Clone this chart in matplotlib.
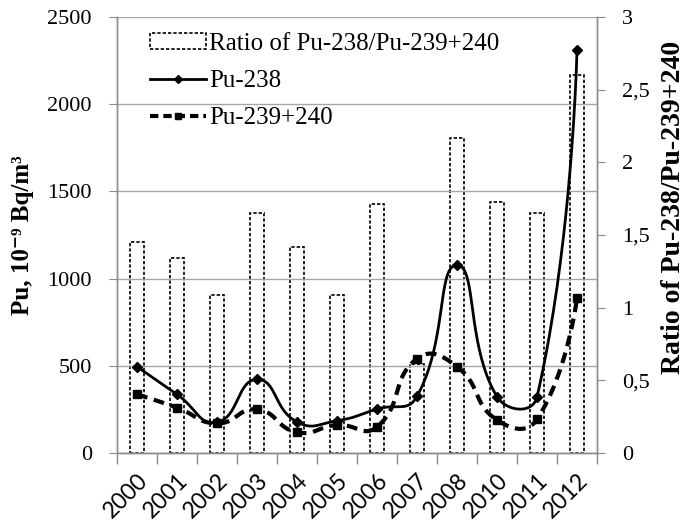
import numpy as np
import matplotlib
matplotlib.use("Agg")
import matplotlib.pyplot as plt
from matplotlib.patches import Patch
from matplotlib.lines import Line2D

years = ["2000", "2001", "2002", "2003", "2004", "2005", "2006", "2007", "2008", "2010", "2011", "2012"]
pu238 = [495, 336, 176, 422, 178, 185, 252, 325, 1078, 323, 321, 2311]
pu239 = [336, 260, 170, 250, 119, 160, 150, 541, 495, 189, 193, 887]
ratio = [1.45, 1.34, 1.09, 1.65, 1.42, 1.09, 1.71, 0.61, 2.17, 1.73, 1.65, 2.60]
left_ticks = [0, 500, 1000, 1500, 2000, 2500]
right_ticks = [0, 0.5, 1, 1.5, 2, 2.5, 3]
right_labels = ["0", "0,5", "1", "1,5", "2", "2,5", "3"]

SERIF = ["Liberation Serif", "DejaVu Serif"]
GRAY = "#8c8c8c"

fig = plt.figure(figsize=(6.94, 5.21), dpi=100)
ax2 = fig.add_axes([117/694, 1-453/521, 480/694, 436/521])
ax = fig.add_axes([117/694, 1-453/521, 480/694, 436/521], sharex=ax2)
ax.set_zorder(ax2.get_zorder() + 1)
ax.patch.set_visible(False)

x = np.arange(len(years))
n = len(years)

# bars (ratio, right axis)
ax2.bar(x, ratio, width=0.35, facecolor="white", edgecolor="black",
        linestyle=(0, (2.0, 1.2)), linewidth=1.2, zorder=2)
ax2.set_ylim(0, 3)
ax2.set_yticks(right_ticks)
ax2.set_yticklabels(right_labels)
ax2.yaxis.tick_right()

ax.set_xlim(-0.5, n - 0.5)
ax.set_ylim(0, 2500)
ax.set_yticks(left_ticks)
ax.grid(axis="y", color="#a6a6a6", linewidth=1.0)
ax.yaxis.tick_left()


def smooth_line(axis, xs, ys, t=0.5, steps=40):
    pts = axis.transData.transform(np.column_stack([xs, ys]))
    out = [pts[0]]
    m = len(pts)
    for i in range(m - 1):
        p0, p1 = pts[i], pts[i + 1]
        d12 = np.linalg.norm(p1 - p0)
        if i > 0:
            pm = pts[i - 1]
            d01 = np.linalg.norm(p0 - pm)
            c1 = p0 + t * d12 / (d01 + d12) * (p1 - pm)
        else:
            c1 = p0
        if i < m - 2:
            p2 = pts[i + 2]
            d23 = np.linalg.norm(p2 - p1)
            c2 = p1 - t * d12 / (d12 + d23) * (p2 - p0)
        else:
            c2 = p1
        s = np.linspace(0, 1, steps)[1:, None]
        seg = ((1 - s) ** 3) * p0 + 3 * ((1 - s) ** 2) * s * c1 + 3 * (1 - s) * s ** 2 * c2 + s ** 3 * p1
        out.extend(seg)
    out = np.array(out)
    return axis.transData.inverted().transform(out)


c238 = smooth_line(ax, x, pu238)
c239 = smooth_line(ax, x, pu239)
ax.plot(c238[:, 0], c238[:, 1], color="black", linewidth=2.0, solid_capstyle="round", zorder=4)
ax.plot(c239[:, 0], c239[:, 1], color="black", linewidth=3.0, linestyle=(0, (2.6, 1.6)), zorder=3)
ax.plot(x, pu238, linestyle="none", marker="D", markersize=5.5, color="black", zorder=5)
ax.plot(x, pu239, linestyle="none", marker="s", markersize=5.5, color="black", zorder=5)

# x ticks: boundaries as minor ticks, labels at centers
ax.set_xticks(x)
ax.set_xticklabels(years, rotation=45, ha="right", va="top", rotation_mode="anchor",
                   fontfamily="Lato", fontsize=16.5)
ax.tick_params(axis="x", which="major", length=0, pad=12)
ax.set_xticks(np.arange(-0.5, n, 1.0), minor=True)
ax.tick_params(axis="x", which="minor", length=8, color=GRAY, width=1)
ax2.tick_params(axis="x", which="both", length=0, labelbottom=False)

for a in (ax, ax2):
    for s in a.spines.values():
        s.set_color(GRAY)
        s.set_linewidth(1.0)
    a.spines["top"].set_visible(False)

ax.tick_params(axis="y", length=6, color=GRAY, pad=12, labelsize=16)
ax2.tick_params(axis="y", length=6, color=GRAY, pad=12, labelsize=16)
for lab in ax.get_yticklabels() + ax2.get_yticklabels():
    lab.set_fontfamily(SERIF)

fig.text(23/694, 1-235.5/521, "Pu, 10\u207b\u2079 Bq/m\u00b3", fontfamily=SERIF, fontweight="bold",
         fontsize=18, rotation=90, ha="center", va="center")
fig.text(673/694, 1-207/521, "Ratio of Pu-238/Pu-239+240", fontfamily=SERIF, fontweight="bold",
         fontsize=20, rotation=90, ha="center", va="center")

handles = [
    Patch(facecolor="white", edgecolor="black", linestyle=(0, (2.0, 1.2)), linewidth=1.2),
    Line2D([], [], color="black", linewidth=2.0, marker="D", markersize=4),
    Line2D([], [], color="black", linewidth=3.0, linestyle=(0, (2.0, 1.2)), marker="s", markersize=4),
]
labels = ["Ratio of Pu-238/Pu-239+240", "Pu-238", "Pu-239+240"]
fig.legend(handles, labels, loc="upper left", bbox_to_anchor=(150/694, 1-33/521),
           frameon=False, prop={"family": SERIF, "size": 18}, borderpad=0, borderaxespad=0,
           handlelength=2.25, handletextpad=0.1, labelspacing=0.6, handleheight=0.6)

fig.savefig("out.png", dpi=100)
